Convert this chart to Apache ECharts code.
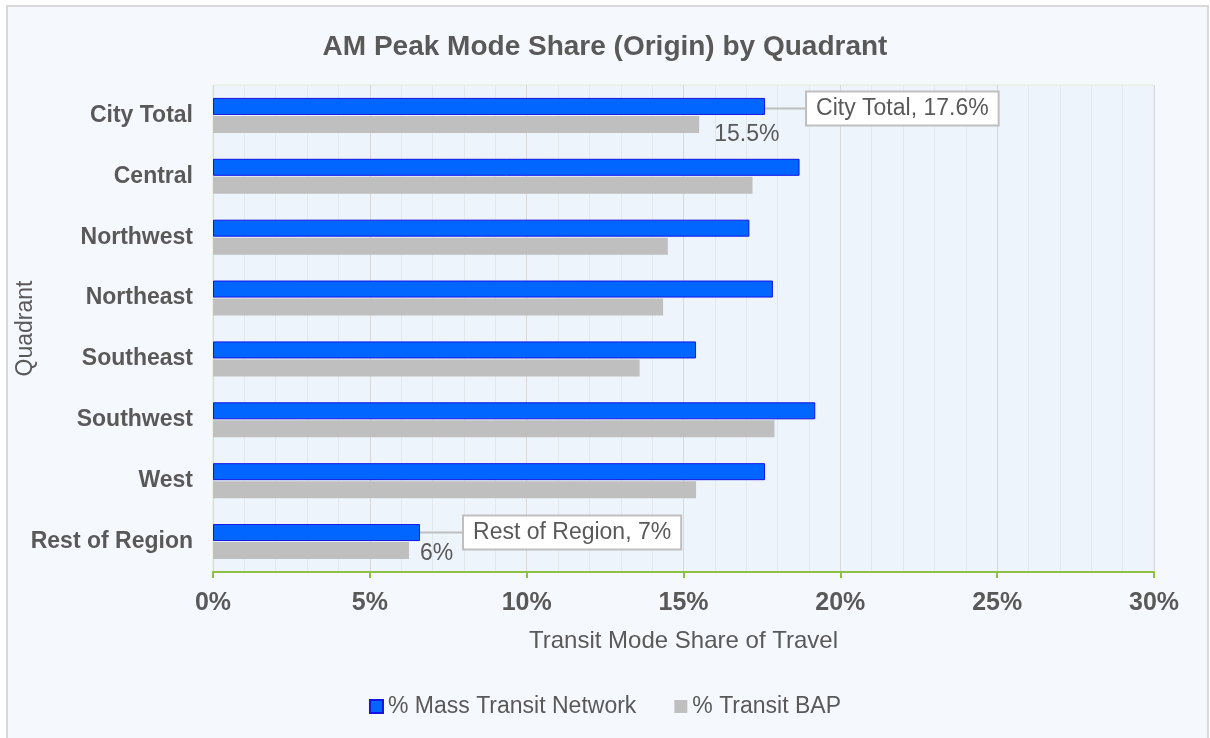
<!DOCTYPE html>
<html>
<head>
<meta charset="utf-8">
<script src="https://cdn.jsdelivr.net/npm/echarts@6/dist/echarts.min.js"></script>
<style>
    body { margin: 0; background: #ffffff; }
    #frame { position: absolute; left: 6px; top: 5px; width: 1199px; height: 740px; border: 2px solid #d9d9d9; background: #f5f8fc; }
    #chartMode { position: absolute; left: 0; top: 0; width: 1210px; height: 738px; }
</style>
</head>
<body>
<div id="frame"></div>
<div id="chartMode"></div>
<script>
var quadrants = ['City Total', 'Central', 'Northwest', 'Northeast', 'Southeast', 'Southwest', 'West', 'Rest of Region'];
var massTransit = [17.6, 18.7, 17.1, 17.85, 15.4, 19.2, 17.6, 6.6];
var transitBAP = [15.5, 17.2, 14.5, 14.35, 13.6, 17.9, 15.4, 6.25];
var xTicks = [0, 5, 10, 15, 20, 25, 30];

var txt = '#595959';
var font = 'Arial, "Liberation Sans", sans-serif';

// callout labels, only on a few bars
var calloutBox = {
    show: true,
    position: 'right',
    color: txt,
    fontSize: 23,
    fontFamily: font,
    backgroundColor: '#ffffff',
    borderColor: '#bfbfbf',
    borderWidth: 2,
    padding: [5, 9, 4, 9]
};

var massData = massTransit.map(function (v, i) {
    if (i === 0) {
        return {value: v, label: Object.assign({}, calloutBox, {formatter: '{b}, ' + v + '%'})};
    }
    if (i === quadrants.length - 1) {
        return {value: v, label: Object.assign({}, calloutBox, {formatter: '{b}, ' + Math.round(v) + '%'})};
    }
    return v;
});

var bapData = transitBAP.map(function (v, i) {
    if (i === 0) {
        return {value: v, label: {show: true, position: 'right', offset: [10, 10], formatter: v + '%', color: txt, fontSize: 23, fontFamily: font}};
    }
    if (i === quadrants.length - 1) {
        return {value: v, label: {show: true, position: 'right', offset: [6, 3], formatter: Math.round(v) + '%', color: txt, fontSize: 23, fontFamily: font}};
    }
    return v;
});

var chart = echarts.init(document.getElementById('chartMode'));
chart.setOption({
    animation: false,
    textStyle: {fontFamily: font},
    title: {
        text: 'AM Peak Mode Share (Origin) by Quadrant',
        left: 'center',
        top: 28,
        textStyle: {fontSize: 28, fontWeight: 'bold', color: txt, fontFamily: font}
    },
    legend: {
        bottom: 15,
        left: 'center',
        icon: 'rect',
        itemWidth: 13,
        itemHeight: 13,
        itemGap: 38,
        textStyle: {fontSize: 23, color: txt, fontFamily: font},
        data: ['% Mass Transit Network', '% Transit BAP']
    },
    grid: {
        left: 213,
        right: 56,
        top: 85,
        bottom: 166,
        outerBoundsMode: 'none',
        show: true,
        backgroundColor: '#edf4fb',
        borderColor: '#e3edd3',
        borderWidth: 1
    },
    xAxis: {
        type: 'value',
        min: xTicks[0],
        max: xTicks[xTicks.length - 1],
        interval: 5,
        name: 'Transit Mode Share of Travel',
        nameLocation: 'middle',
        nameGap: 57,
        nameTextStyle: {fontSize: 24, color: txt, fontFamily: font},
        axisLine: {show: true, lineStyle: {color: '#8dc043', width: 2}},
        axisTick: {show: true, length: 6, lineStyle: {color: '#8dc043', width: 2}},
        axisLabel: {formatter: '{value}%', fontSize: 25, fontWeight: 'bold', color: txt, margin: 19, fontFamily: font},
        splitLine: {show: true, lineStyle: {color: '#d9d9d9', width: 1}},
        minorTick: {show: false, splitNumber: 5},
        minorSplitLine: {show: true, lineStyle: {color: '#e3e8ed', width: 1}}
    },
    yAxis: {
        type: 'category',
        inverse: true,
        data: quadrants,
        name: 'Quadrant',
        nameLocation: 'middle',
        nameRotate: 90,
        nameGap: 176,
        nameMoveOverlap: false,
        nameTextStyle: {fontSize: 23, color: txt, fontFamily: font},
        axisLine: {show: false},
        axisTick: {show: false},
        axisLabel: {fontSize: 23, fontWeight: 'bold', color: txt, margin: 20, fontFamily: font}
    },
    series: [
        {
            name: '% Mass Transit Network',
            type: 'bar',
            barWidth: 17,
            barGap: '6%',
            itemStyle: {color: '#0066ff', borderColor: '#1414e6', borderWidth: 1},
            labelLayout: function (params) {
                if (params.dataIndex === 0) return {dx: 37, dy: 2};
                return {dx: 39, dy: 0};
            },
            labelLine: {show: true, lineStyle: {color: '#bfbfbf', width: 2}},
            data: massData
        },
        {
            name: '% Transit BAP',
            type: 'bar',
            barWidth: 17,
            itemStyle: {color: '#bfbfbf'},
            data: bapData
        }
    ]
});
window.addEventListener('resize', function () {
    chart.resize();
});
</script>
</body>
</html>
